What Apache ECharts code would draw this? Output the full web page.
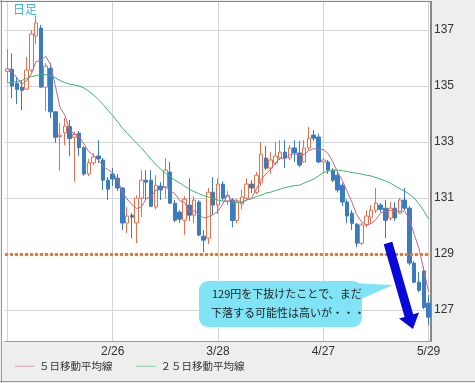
<!DOCTYPE html>
<html><head><meta charset="utf-8">
<script src="https://cdn.jsdelivr.net/npm/echarts@6/dist/echarts.min.js"></script>
<style>html,body{margin:0;padding:0;background:#eeeeee}#c{width:475px;height:383px}</style>
</head><body><div id="c"></div>
<script>
// ---- data ----
const tickPositions = [22, 44, 66, 88];
const tickLabels = ['2/26', '3/28', '4/27', '5/29'];
const gridLinePositions = [0, 22, 44, 66, 88];
const yTicks = [127, 129, 131, 133, 135, 137];
const supportLevel = 129;

const opens = [135.52,135.60,135.10,134.95,134.89,135.57,136.79,137.07,134.96,135.63,
134.08,133.20,133.33,133.55,133.17,133.32,132.80,131.86,132.26,132.50,
132.36,131.64,131.86,131.71,131.36,130.11,130.39,130.11,131.00,131.64,
131.64,130.68,131.43,131.39,131.93,130.82,130.50,130.21,130.75,130.39,
130.86,129.64,129.57,131.21,130.75,131.50,130.90,130.93,130.20,130.79,
131.00,131.50,131.21,131.54,132.43,132.07,132.25,132.43,132.64,132.43,
132.79,132.61,132.29,132.79,133.25,133.18,132.29,132.29,132.00,131.82,
131.46,130.86,130.46,130.07,129.39,130.04,130.32,130.57,130.75,130.64,
130.29,130.64,130.46,130.93,130.64,128.68,128.00,128.40,127.25];

const closes = [135.61,135.00,134.88,134.85,135.57,136.86,137.25,134.96,135.71,134.08,
133.17,133.25,133.57,133.13,133.27,132.80,131.86,132.26,132.47,132.40,
131.64,131.32,131.68,131.36,130.11,130.36,130.32,131.00,131.64,131.57,
130.71,131.46,131.29,132.00,130.82,130.21,130.25,130.96,130.39,130.93,
129.68,129.50,131.21,130.75,131.50,131.00,131.10,130.20,130.86,131.04,
131.50,131.36,131.82,132.57,132.07,132.36,132.50,132.64,132.43,132.79,
132.61,132.18,132.79,133.14,133.14,132.29,132.36,132.00,131.64,131.29,
130.86,130.36,130.10,129.39,130.04,130.36,130.57,130.82,130.60,130.21,
130.64,130.29,130.93,130.64,128.68,128.00,127.71,127.10,126.75];

const lows = [135.14,134.56,134.36,134.14,134.86,135.50,136.50,134.95,134.11,133.86,
132.97,131.98,132.89,132.50,131.58,132.50,131.80,131.78,132.17,132.25,
131.29,130.93,131.43,131.25,129.86,129.75,129.57,129.39,130.32,130.93,
130.68,130.60,130.93,130.99,130.79,130.14,130.11,129.68,130.18,130.11,
129.64,129.07,129.36,130.40,130.43,130.90,130.75,129.96,130.10,130.60,
130.93,131.18,131.14,131.43,132.00,131.86,132.18,132.36,132.07,132.36,
132.29,132.10,132.25,132.71,133.04,132.25,131.89,131.86,131.57,131.20,
130.71,130.10,129.86,129.25,129.32,129.96,130.10,130.46,130.50,129.57,
130.21,130.18,130.43,130.57,128.60,127.96,127.64,127.04,126.46];

const highs = [136.32,136.17,135.33,135.20,136.04,137.00,137.50,137.18,135.82,135.82,
134.10,133.68,133.86,133.79,133.37,133.40,132.85,132.40,132.60,133.07,
132.43,131.75,132.07,131.86,131.39,130.68,130.46,131.10,132.00,132.00,
132.00,131.82,131.57,132.43,132.29,130.93,130.57,131.07,131.71,131.07,
130.93,129.86,131.36,131.75,131.71,131.60,131.25,131.00,130.96,131.30,
131.71,131.64,131.93,133.00,132.86,132.64,133.00,133.07,133.07,132.90,
133.07,133.04,133.07,133.54,133.43,133.30,132.45,132.36,132.07,131.96,
131.54,130.96,130.57,130.11,130.11,130.57,130.75,131.36,130.82,130.93,
130.86,130.86,131.00,131.36,130.71,128.75,128.36,128.54,127.54];

const ma5 = [135.61,135.50,135.29,135.07,135.18,135.43,135.88,135.90,136.07,135.77,
135.03,134.23,133.96,133.44,133.28,133.20,132.93,132.66,132.53,132.36,
132.13,132.02,131.90,131.68,131.22,130.97,130.77,130.63,130.69,130.98,
131.05,131.28,131.33,131.41,131.26,131.16,130.91,130.85,130.53,130.55,
130.44,130.29,130.34,130.41,130.53,130.79,131.11,130.91,130.93,130.84,
130.94,130.99,131.32,131.66,131.86,132.04,132.26,132.43,132.40,132.54,
132.59,132.53,132.56,132.70,132.77,132.71,132.74,132.59,132.29,131.92,
131.63,131.23,130.85,130.40,130.15,130.05,130.09,130.24,130.48,130.51,
130.57,130.51,130.53,130.54,130.24,129.71,129.19,128.43,127.65];

const ma25 = [135.11,135.14,135.16,135.20,135.27,135.34,135.37,135.41,135.41,135.37,
135.29,135.20,135.12,135.07,135.04,135.00,134.93,134.82,134.68,134.52,
134.34,134.14,133.95,133.73,133.50,133.32,133.14,132.96,132.79,132.59,
132.39,132.20,132.04,131.89,131.77,131.64,131.54,131.43,131.32,131.23,
131.16,131.09,131.04,130.98,130.93,130.89,130.88,130.86,130.84,130.86,
130.93,130.98,131.05,131.11,131.18,131.21,131.27,131.32,131.38,131.41,
131.45,131.46,131.54,131.61,131.68,131.79,131.91,131.96,132.00,132.00,
131.98,131.95,131.91,131.89,131.86,131.82,131.79,131.73,131.68,131.61,
131.54,131.43,131.34,131.25,131.14,131.00,130.79,130.54,130.25];

const seriesNames = ['５日移動平均線', '２５日移動平均線'];
const periodLabel = '日足';
const noteLines = ['129円を下抜けたことで、まだ', '下落する可能性は高いが・・・'];

// ---- build chart ----
const labelMap = {};
tickPositions.forEach((p, k) => { labelMap[p] = tickLabels[k]; });
const categories = opens.map((_, i) => String(i));
const candleData = opens.map((o, i) => [o, closes[i], lows[i], highs[i]]);

const chart = echarts.init(document.getElementById('c'), null, {renderer: 'canvas'});
const gridColor = '#d4d4d4';
const cjk = '"Noto Sans CJK JP", sans-serif';

chart.setOption({
  animation: false,
  backgroundColor: '#eeeeee',
  grid: {left: 5, right: 44, top: 2, bottom: 42},
  legend: {
    data: seriesNames, left: 10, top: 356, icon: 'rect', itemWidth: 19, itemHeight: 1,
    itemGap: 24, textStyle: {fontSize: 10.5, color: '#333', fontFamily: cjk}
  },
  xAxis: {
    type: 'category', data: categories, boundaryGap: true,
    axisLine: {show: true, lineStyle: {color: '#999'}},
    axisTick: {show: false}, splitLine: {show: false},
    axisLabel: {interval: 0, formatter: (v, idx) => labelMap[idx] || '', color: '#333',
      fontSize: 12, margin: 5, fontFamily: '"Liberation Sans", sans-serif'}
  },
  yAxis: {
    type: 'value', position: 'right', min: 125.9, max: 138,
    axisLine: {show: true, lineStyle: {color: '#888', width: 2}},
    axisTick: {show: false, customValues: yTicks},
    axisLabel: {customValues: yTicks, color: '#333', fontSize: 12, margin: 3,
      fontFamily: '"Liberation Sans", sans-serif'},
    splitLine: {show: true, lineStyle: {color: gridColor, width: 1}}
  },
  graphic: [
    {type: 'rect', z: -10, silent: true, shape: {x: 2, y: 2, width: 430, height: 339}, style: {fill: '#ffffff'}},
    {type: 'line', z: 10, silent: true, shape: {x1: 0, y1: 1.5, x2: 432, y2: 1.5}, style: {stroke: '#888', lineWidth: 1}},
    {type: 'line', z: 10, silent: true, shape: {x1: 1.5, y1: 0, x2: 1.5, y2: 383}, style: {stroke: '#999', lineWidth: 1}},
    {type: 'line', z: 10, silent: true, shape: {x1: 0, y1: 381.5, x2: 475, y2: 381.5}, style: {stroke: '#999', lineWidth: 1}},
    {type: 'text', z: 10, silent: true, x: 13, y: 3, style: {text: periodLabel, fill: '#3fb0e0', font: '12px ' + cjk}},
    {type: 'polygon', z: 20, silent: true, shape: {points: [[350, 283], [393, 285], [361, 299]]}, style: {fill: '#80e4f6'}},
    {type: 'rect', z: 20, silent: true, shape: {x: 199, y: 281, width: 163, height: 46, r: 9}, style: {fill: '#80e4f6'}},
    {type: 'text', z: 21, silent: true, x: 212, y: 294, style: {text: noteLines[0], fill: '#222', font: '11px ' + cjk, verticalAlign: 'middle'}},
    {type: 'text', z: 21, silent: true, x: 211, y: 313, style: {text: noteLines[1], fill: '#222', font: '11px ' + cjk, verticalAlign: 'middle'}},
    {type: 'polygon', z: 22, silent: true, shape: {points: [[383.7, 244.3], [392.3, 241.7], [413.2, 314.3], [419, 312.5], [413, 329], [399, 318.5], [404.6, 316.9]]}, style: {fill: '#0808d8'}}
  ],
  series: [
    {
      type: 'line', data: [], silent: true,
      markLine: {z: 1, silent: true, symbol: 'none', animation: false, label: {show: false},
        lineStyle: {color: gridColor, type: 'solid', width: 1},
        data: gridLinePositions.map(p => ({xAxis: p}))}
    },
    {
      type: 'candlestick', name: 'price', data: candleData, barWidth: 4,
      itemStyle: {color: '#ffffff', color0: '#3b7cc0', borderColor: '#e4704c', borderColor0: '#3b7cc0', borderWidth: 1},
      markLine: {silent: true, symbol: 'none', animation: false, label: {show: false},
        lineStyle: {color: '#f07828', type: [3, 2], width: 3},
        data: [{yAxis: supportLevel}]}
    },
    {type: 'line', name: seriesNames[0], data: ma5, showSymbol: false, symbol: 'none',
      lineStyle: {color: '#c0688e', width: 1}, itemStyle: {color: '#d99aae'}},
    {type: 'line', name: seriesNames[1], data: ma25, showSymbol: false, symbol: 'none',
      lineStyle: {color: '#3cb371', width: 1}, itemStyle: {color: '#7cc99c'}}
  ]
});
</script></body></html>
